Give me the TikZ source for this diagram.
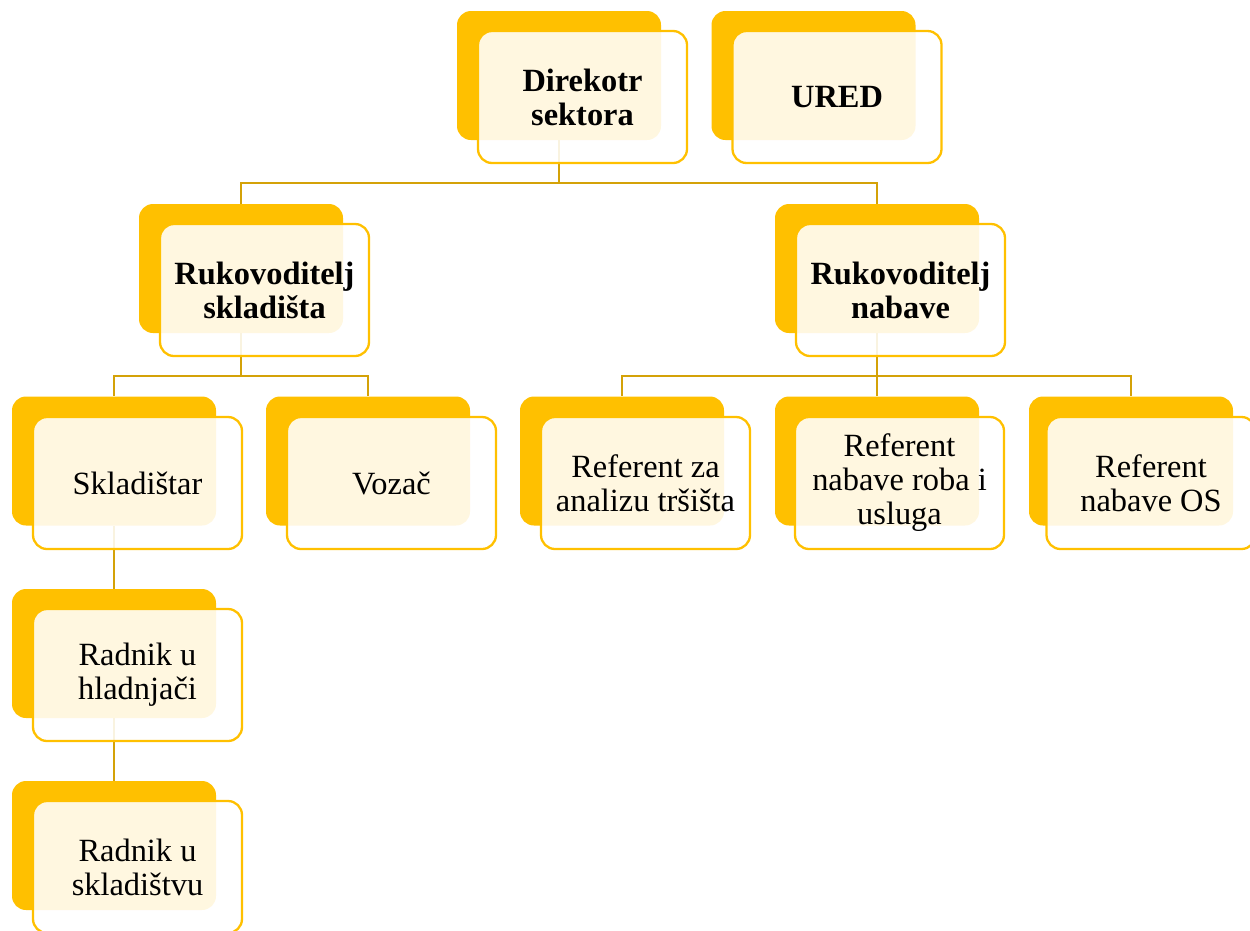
\documentclass[tikz,border=0pt]{standalone}
\usepackage{fontspec}
\setmainfont{Liberation Serif}
\definecolor{gold}{RGB}{255,192,0}
\definecolor{conn}{RGB}{212,162,8}
\begin{document}
\begin{tikzpicture}[x=1pt,y=-1pt,
  backbox/.style={draw=none,fill=gold,rounded corners=14pt,minimum width=204pt,minimum height=129pt,inner sep=0pt},
  frontbox/.style={draw=gold,line width=2.3pt,fill=white,fill opacity=0.88,text opacity=1,rounded corners=14pt,minimum width=209pt,minimum height=132pt,inner sep=0pt,align=center,font=\fontsize{32.4}{34}\selectfont},
  conline/.style={draw=conn,line width=2.6pt}]
\useasboundingbox (0,0) rectangle (1250,930);
% back boxes
\node[backbox] (dirB) at (559,75.5) {};
\node[backbox] (urB) at (813.5,75.5) {};
\node[backbox] (rsB) at (241,268.5) {};
\node[backbox] (rnB) at (877,268.5) {};
\node[backbox] (skB) at (114,461) {};
\node[backbox] (voB) at (368,461) {};
\node[backbox] (raB) at (622,461) {};
\node[backbox] (rrB) at (877,461) {};
\node[backbox] (roB) at (1131,461) {};
\node[backbox] (rhB) at (114,653.5) {};
\node[backbox] (rkB) at (114,845.5) {};
% connectors
\draw[conline] (dirB.south) -- (dirB.south |- 0,183) -| (rsB.north);
\draw[conline] (dirB.south |- 0,183) -| (rnB.north);
\draw[conline] (rsB.south) -- (rsB.south |- 0,376) -| (skB.north);
\draw[conline] (rsB.south |- 0,376) -| (voB.north);
\draw[conline] (rnB.south) -- (rnB.south |- 0,376) -| (raB.north);
\draw[conline] (rnB.south |- 0,376) -| (roB.north);
\draw[conline] (rnB.south |- 0,376) -- (rrB.north);
\draw[conline] (skB.south) -- (rhB.north);
\draw[conline] (rhB.south) -- (rkB.north);
% front boxes
\node[frontbox] (dir) at (582.5,97) {\textbf{Direkotr}\\\textbf{sektora}};
\node[frontbox] (ur) at (837,97) {\textbf{URED}};
\node[frontbox] (rs) at (264.5,290) {\textbf{Rukovoditelj}\\\textbf{skladišta}};
\node[frontbox] (rn) at (900.5,290) {\textbf{Rukovoditelj}\\\textbf{nabave}};
\node[frontbox] (sk) at (137.5,483) {Skladištar};
\node[frontbox] (vo) at (391.5,483) {Vozač};
\node[frontbox] (ra) at (645.5,483) {Referent za\\analizu tršišta};
\node[frontbox] (rr) at (899.5,483) {Referent\\nabave roba i\\usluga};
\node[frontbox] (ro) at (1151,483) {Referent\\nabave OS};
\node[frontbox] (rh) at (137.5,675) {Radnik u\\hladnjači};
\node[frontbox] (rk) at (137.5,867) {Radnik u\\skladištvu};
\end{tikzpicture}
\end{document}
